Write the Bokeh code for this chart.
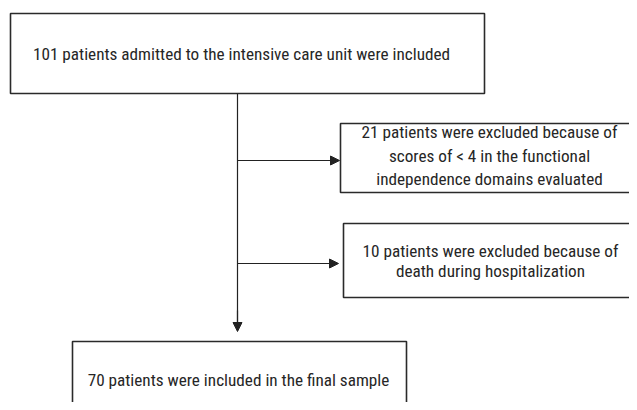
from bokeh.plotting import figure
from bokeh.models import Range1d, Arrow, NormalHead, ColumnDataSource
from bokeh.core.properties import value
from bokeh.embed import file_html
from bokeh.resources import INLINE

# Flowchart content
labels = [
    "101 patients admitted to the intensive care unit were included",
    "21 patients were excluded because of\nscores of < 4 in the functional\nindependence domains evaluated",
    "10 patients were excluded because of\ndeath during hospitalization",
    "70 patients were included in the final sample",
]
counts = [101, 21, 10, 70]

# Layout (pixel coordinates, y downwards)
box_left = [10, 340, 343, 72]
box_right = [484, 700, 700, 406]
box_top = [13, 123, 223, 341]
box_bottom = [93, 192, 297, 430]
text_x = [241, 489, 490, 238]
text_y = [53, 155, 260.5, 379]
line_gap = [0, 23.5, 20.5, 0]

W, H = 629, 402
p = figure(width=W, height=H, output_backend="svg", toolbar_location=None,
           x_range=Range1d(0, W), y_range=Range1d(H, 0),
           min_border=0, outline_line_color=None)
p.axis.visible = False
p.grid.visible = False
p.background_fill_color = "white"
p.border_fill_color = "white"

boxes = ColumnDataSource(dict(
    left=box_left, right=box_right, top=box_top, bottom=box_bottom, n=counts,
))
p.quad(left="left", right="right", top="top", bottom="bottom", source=boxes,
       fill_color=None, line_color="#2a2a2a", line_width=1.6)

# one text row per printed line, centred vertically in each box
lx, ly, lt = [], [], []
for lab, cx, cy, gap in zip(labels, text_x, text_y, line_gap):
    rows = lab.split("\n")
    k = len(rows)
    for i, r in enumerate(rows):
        lx.append(cx)
        ly.append(cy + (i - (k - 1) / 2) * gap)
        lt.append(r)
lines = ColumnDataSource(dict(x=lx, y=ly, text=lt))
p.text(x="x", y="y", text="text", source=lines, text_align="center",
       text_baseline="middle", text_font=value("Roboto Condensed"),
       text_font_size="17.2px", text_color="#262626")

# connectors
trunk_x = 237
line_col = "#222222"
p.segment(x0=[trunk_x], y0=[93], x1=[trunk_x], y1=[322], line_color=line_col, line_width=1.2)
for y, xend in [(160, 339), (263, 338)]:
    p.add_layout(Arrow(end=NormalHead(size=9, fill_color=line_col, line_color=line_col),
                       x_start=trunk_x, y_start=y, x_end=xend, y_end=y,
                       line_color=line_col, line_width=1.2))
p.add_layout(Arrow(end=NormalHead(size=9, fill_color=line_col, line_color=line_col),
                   x_start=trunk_x, y_start=310, x_end=trunk_x, y_end=331,
                   line_color=line_col, line_width=1.2))

open("out.html", "w").write(file_html(p, INLINE))
